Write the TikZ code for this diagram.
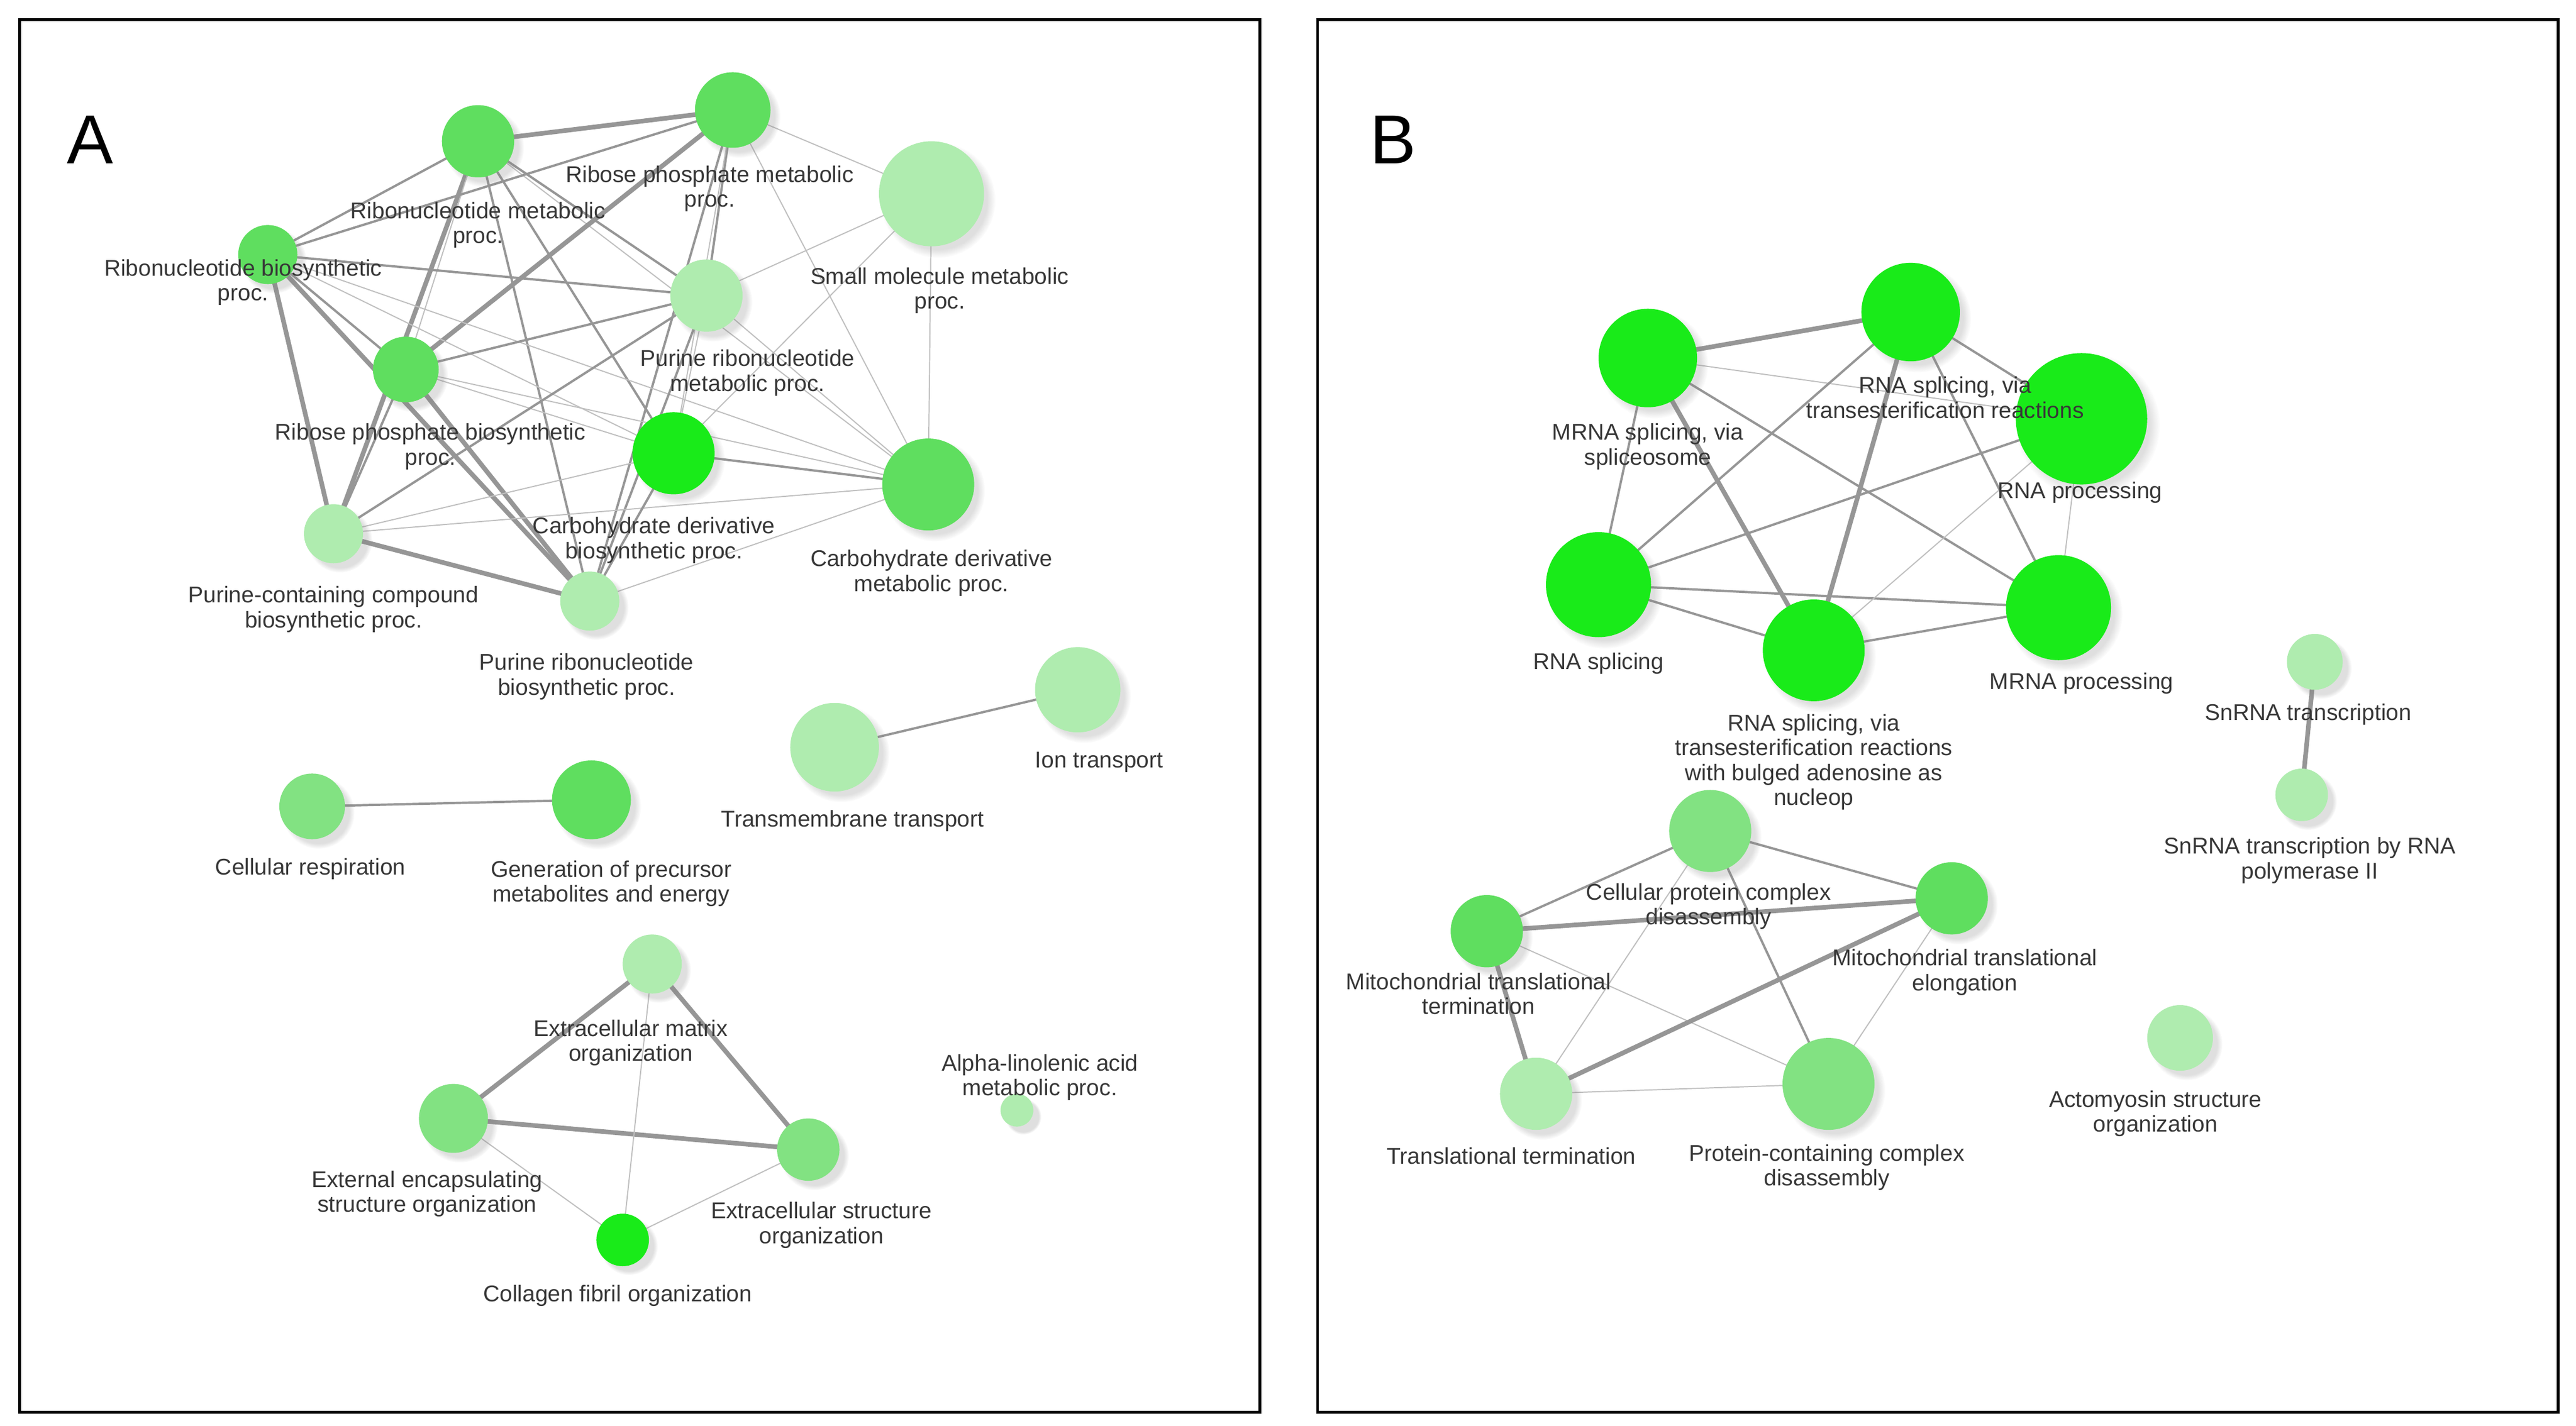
\documentclass[tikz,border=0pt]{standalone}
\usepackage{fontspec}
\setmainfont{Liberation Sans}
\usetikzlibrary{backgrounds,shadows}
\definecolor{ga}{RGB}{25,235,25}
\definecolor{gb}{RGB}{95,222,95}
\definecolor{gc}{RGB}{130,226,130}
\definecolor{gd}{RGB}{175,236,175}
\definecolor{tx}{RGB}{55,55,55}
\definecolor{ed}{RGB}{150,150,150}
\tikzset{
 n/.style={circle,fill=#1,inner sep=0pt,circular drop shadow={shadow xshift=2pt,shadow yshift=-2pt,opacity=0.25}},
 r/.style={minimum size=#1*0.04cm},
 lb/.style={align=center,font=\fontsize{7.9}{8.6}\selectfont,text=tx,inner sep=0pt},
 e1/.style={draw=ed!60,line width=0.4pt},
 e2/.style={draw=ed,line width=0.8pt},
 e3/.style={draw=ed,line width=1.6pt},
 fr/.style={draw=black,line width=1pt},
 big/.style={font=\fontsize{24}{24}\selectfont,inner sep=0pt}
}
\begin{document}
\begin{tikzpicture}[x=0.02cm,y=-0.02cm]
\useasboundingbox (0,0) rectangle (1568,868);
\draw[fr] (12,12) rectangle (767,860);
\draw[fr] (802,12) rectangle (1557,860);
\node[big] (A) at (55,85) {A};
\node[big] (B) at (848,85) {B};
% Panel A nodes
\node[n=gb,r=22] (rm) at (291,86) {};
\node[n=gb,r=23] (rpm) at (446,67) {};
\node[n=gd,r=32] (smm) at (567,118) {};
\node[n=gb,r=18] (rb) at (163,155) {};
\node[n=gd,r=22] (prm) at (430,180) {};
\node[n=gb,r=20] (rpb) at (247,225) {};
\node[n=ga,r=25] (cdb) at (410,276) {};
\node[n=gb,r=28] (cdm) at (565,295) {};
\node[n=gd,r=18] (pcb) at (203,325) {};
\node[n=gd,r=18] (prb) at (359,366) {};
\node[n=gd,r=26] (ion) at (656,420) {};
\node[n=gd,r=27] (tmt) at (508,455) {};
\node[n=gc,r=20] (cr) at (190,491) {};
\node[n=gb,r=24] (gp) at (360,487) {};
\node[n=gd,r=18] (ecm) at (397,587) {};
\node[n=gd,r=10] (al) at (619,676) {};
\node[n=gc,r=21] (ee) at (276,681) {};
\node[n=gc,r=19] (es) at (492,700) {};
\node[n=ga,r=16] (cf) at (379,755) {};
% Panel A labels
\node[lb] (l1) at (291,137) {Ribonucleotide metabolic\\proc.};
\node[lb] (l2) at (432,115) {Ribose phosphate metabolic\\proc.};
\node[lb] (l3) at (572,177) {Small molecule metabolic\\proc.};
\node[lb] (l4) at (148,172) {Ribonucleotide biosynthetic\\proc.};
\node[lb] (l5) at (455,227) {Purine ribonucleotide\\metabolic proc.};
\node[lb] (l6) at (262,272) {Ribose phosphate biosynthetic\\proc.};
\node[lb] (l7) at (398,329) {Carbohydrate derivative\\biosynthetic proc.};
\node[lb] (l8) at (567,349) {Carbohydrate derivative\\metabolic proc.};
\node[lb] (l9) at (203,371) {Purine-containing compound\\biosynthetic proc.};
\node[lb] (l10) at (357,412) {Purine ribonucleotide\\biosynthetic proc.};
\node[lb] (l11) at (669,464) {Ion transport};
\node[lb] (l12) at (519,500) {Transmembrane transport};
\node[lb] (l13) at (189,529) {Cellular respiration};
\node[lb] (l14) at (372,538) {Generation of precursor\\metabolites and energy};
\node[lb] (l15) at (384,635) {Extracellular matrix\\organization};
\node[lb] (l16) at (633,656) {Alpha-linolenic acid\\metabolic proc.};
\node[lb] (l17) at (260,727) {External encapsulating\\structure organization};
\node[lb] (l18) at (500,746) {Extracellular structure\\organization};
\node[lb] (l19) at (376,789) {Collagen fibril organization};
% Panel B nodes
\node[n=ga,r=30] (mss) at (1003,218) {};
\node[n=ga,r=30] (rst) at (1163,190) {};
\node[n=ga,r=40] (rp) at (1267,255) {};
\node[n=ga,r=32] (rs) at (973,356) {};
\node[n=ga,r=31] (rbu) at (1104,396) {};
\node[n=ga,r=32] (mp) at (1253,370) {};
\node[n=gd,r=17] (sn) at (1409,403) {};
\node[n=gd,r=16] (snp) at (1401,484) {};
\node[n=gc,r=25] (cpc) at (1041,506) {};
\node[n=gb,r=22] (mtt) at (905,567) {};
\node[n=gb,r=22] (me) at (1188,547) {};
\node[n=gd,r=22] (tt) at (935,666) {};
\node[n=gc,r=28] (pcd) at (1113,660) {};
\node[n=gd,r=20] (act) at (1327,632) {};
% Panel B labels
\node[lb] (m1) at (1003,272) {MRNA splicing, via\\spliceosome};
\node[lb] (m2) at (1184,242) {RNA splicing, via\\transesterification reactions};
\node[lb] (m3) at (1266,300) {RNA processing};
\node[lb] (m4) at (973,404) {RNA splicing};
\node[lb] (m5) at (1267,416) {MRNA processing};
\node[lb] (m6) at (1104,464) {RNA splicing, via\\transesterification reactions\\with bulged adenosine as\\nucleop};
\node[lb] (m7) at (1405,435) {SnRNA transcription};
\node[lb] (m8) at (1406,524) {SnRNA transcription by RNA\\polymerase II};
\node[lb] (m9) at (1040,552) {Cellular protein complex\\disassembly};
\node[lb] (m10) at (900,605) {Mitochondrial translational\\termination};
\node[lb] (m11) at (1196,592) {Mitochondrial translational\\elongation};
\node[lb] (m12) at (920,704) {Translational termination};
\node[lb] (m13) at (1112,711) {Protein-containing complex\\disassembly};
\node[lb] (m14) at (1312,678) {Actomyosin structure\\organization};
\begin{scope}[on background layer]
\draw[e3] (rm.center) -- (rpm.center);
\draw[e2] (rm.center) -- (rb.center);
\draw[e3] (rm.center) -- (pcb.center);
\draw[e2] (rm.center) -- (prm.center);
\draw[e1] (rm.center) -- (rpb.center);
\draw[e2] (rm.center) -- (cdb.center);
\draw[e2] (rm.center) -- (prb.center);
\draw[e1] (rm.center) -- (cdm.center);
\draw[e2] (rpm.center) -- (rb.center);
\draw[e2] (rpm.center) -- (prm.center);
\draw[e3] (rpm.center) -- (rpb.center);
\draw[e1] (rpm.center) -- (smm.center);
\draw[e1] (rpm.center) -- (cdm.center);
\draw[e2] (rpm.center) -- (prb.center);
\draw[e1] (rpm.center) -- (cdb.center);
\draw[e3] (rb.center) -- (pcb.center);
\draw[e3] (rb.center) -- (prb.center);
\draw[e2] (rb.center) -- (rpb.center);
\draw[e2] (rb.center) -- (prm.center);
\draw[e1] (rb.center) -- (cdb.center);
\draw[e1] (rb.center) -- (cdm.center);
\draw[e2] (rpb.center) -- (prm.center);
\draw[e2] (rpb.center) -- (pcb.center);
\draw[e3] (rpb.center) -- (prb.center);
\draw[e1] (rpb.center) -- (cdb.center);
\draw[e1] (rpb.center) -- (cdm.center);
\draw[e2] (prm.center) -- (pcb.center);
\draw[e2] (prm.center) -- (prb.center);
\draw[e1] (prm.center) -- (cdb.center);
\draw[e1] (prm.center) -- (cdm.center);
\draw[e1] (prm.center) -- (smm.center);
\draw[e3] (pcb.center) -- (prb.center);
\draw[e1] (pcb.center) -- (cdb.center);
\draw[e1] (pcb.center) -- (cdm.center);
\draw[e2] (prb.center) -- (cdb.center);
\draw[e1] (prb.center) -- (cdm.center);
\draw[e2] (cdb.center) -- (cdm.center);
\draw[e1] (smm.center) -- (cdm.center);
\draw[e1] (smm.center) -- (cdb.center);
\draw[e2] (ion.center) -- (tmt.center);
\draw[e2] (cr.center) -- (gp.center);
\draw[e3] (ecm.center) -- (ee.center);
\draw[e3] (ecm.center) -- (es.center);
\draw[e3] (ee.center) -- (es.center);
\draw[e1] (ecm.center) -- (cf.center);
\draw[e1] (ee.center) -- (cf.center);
\draw[e1] (es.center) -- (cf.center);
\draw[e3] (mss.center) -- (rst.center);
\draw[e2] (mss.center) -- (rs.center);
\draw[e3] (mss.center) -- (rbu.center);
\draw[e2] (mss.center) -- (mp.center);
\draw[e1] (mss.center) -- (rp.center);
\draw[e2] (rst.center) -- (rs.center);
\draw[e3] (rst.center) -- (rbu.center);
\draw[e2] (rst.center) -- (rp.center);
\draw[e2] (rst.center) -- (mp.center);
\draw[e2] (rs.center) -- (rbu.center);
\draw[e2] (rs.center) -- (mp.center);
\draw[e2] (rs.center) -- (rp.center);
\draw[e2] (rbu.center) -- (mp.center);
\draw[e1] (rbu.center) -- (rp.center);
\draw[e1] (rp.center) -- (mp.center);
\draw[e3] (sn.center) -- (snp.center);
\draw[e2] (cpc.center) -- (mtt.center);
\draw[e2] (cpc.center) -- (me.center);
\draw[e1] (cpc.center) -- (tt.center);
\draw[e2] (cpc.center) -- (pcd.center);
\draw[e3] (mtt.center) -- (me.center);
\draw[e3] (mtt.center) -- (tt.center);
\draw[e1] (mtt.center) -- (pcd.center);
\draw[e3] (me.center) -- (tt.center);
\draw[e1] (me.center) -- (pcd.center);
\draw[e1] (tt.center) -- (pcd.center);
\end{scope}
\end{tikzpicture}
\end{document}
